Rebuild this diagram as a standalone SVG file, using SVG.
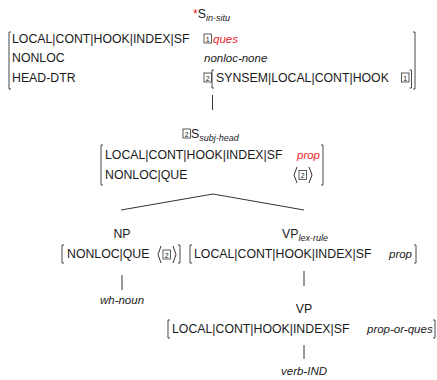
<svg xmlns="http://www.w3.org/2000/svg" width="437" height="380" viewBox="0 0 437 380">
<style>
.t{font-family:"Liberation Sans",Arial,sans-serif;font-size:12.3px;fill:#1a1a1a}
.v{font-style:italic;font-size:11.5px}
.r{fill:#e8262a}
.sub{font-style:italic;font-size:9px}
.m{text-anchor:middle}
.br{fill:none;stroke:#333;stroke-width:0.9}
.bx{fill:none;stroke:#333;stroke-width:0.8}
.d{font-family:"Liberation Sans",Arial,sans-serif;font-size:7px;text-anchor:middle;fill:#1a1a1a}
.ln{fill:none;stroke:#333;stroke-width:1}
</style>
<g id="node-s-in-situ">
<text class="t" x="193" y="18"><tspan class="r">*</tspan>S<tspan class="sub" dy="2.5">in-situ</tspan></text>
<path class="br" d="M11,32 H9 V89 H11"/>
<path class="br" d="M413,32 H415 V89 H413"/>
<text class="t" x="12" y="43">LOCAL|CONT|HOOK|INDEX|SF</text>
<text class="t" x="12" y="62">NONLOC</text>
<text class="t" x="12" y="82">HEAD-DTR</text>
<rect class="bx" x="204" y="34" width="7.5" height="9"/>
<text class="d" x="207.75" y="41.5">1</text>
<text class="t v r" x="213" y="43">ques</text>
<text class="t v" x="204" y="62">nonloc-none</text>
<rect class="bx" x="204" y="73" width="7.5" height="9"/>
<text class="d" x="207.75" y="80.5">2</text>
<path class="br" d="M214,70 H212 V88 H214"/>
<text class="t" x="216" y="82">SYNSEM|LOCAL|CONT|HOOK</text>
<rect class="bx" x="401.5" y="73" width="7.5" height="9"/>
<text class="d" x="405.25" y="80.5">1</text>
<path class="br" d="M409.5,70 H411.5 V88 H409.5"/>
</g>
<g id="node-s-subj-head">
<rect class="bx" x="183" y="129" width="7.5" height="9"/>
<text class="d" x="186.75" y="136.5">2</text>
<text class="t" x="191" y="138">S<tspan class="sub" dy="2.5">subj-head</tspan></text>
<path class="br" d="M103,145 H101 V185 H103"/>
<text class="t" x="105" y="159">LOCAL|CONT|HOOK|INDEX|SF</text>
<text class="t" x="105" y="179">NONLOC|QUE</text>
<text class="t v r" x="297" y="159">prop</text>
<polyline class="ln" points="297,167 294,175 297,183"/>
<rect class="bx" x="299" y="170.5" width="7.5" height="9"/>
<text class="d" x="302.75" y="178">2</text>
<polyline class="ln" points="309,167 312,175 309,183"/>
<path class="br" d="M321,145 H323 V185 H321"/>
</g>
<g id="node-np">
<text class="t m" x="122" y="238">NP</text>
<path class="br" d="M64,245 H62 V263 H64"/>
<text class="t" x="67" y="258">NONLOC|QUE</text>
<polyline class="ln" points="161,246 158,254.5 161,263"/>
<rect class="bx" x="163" y="250" width="7.5" height="9"/>
<text class="d" x="166.75" y="257.5">2</text>
<polyline class="ln" points="173,246 176,254.5 173,263"/>
<path class="br" d="M178,245 H180 V263 H178"/>
</g>
<g id="node-wh-noun">
<text class="t v m" x="122" y="304">wh-noun</text>
</g>
<g id="node-vp-lex-rule">
<text class="t" x="282" y="238">VP<tspan class="sub" dy="2.5">lex-rule</tspan></text>
<path class="br" d="M192,245 H190 V263 H192"/>
<text class="t" x="194" y="258">LOCAL|CONT|HOOK|INDEX|SF</text>
<text class="t v" x="389" y="258">prop</text>
<path class="br" d="M414,245 H416 V263 H414"/>
</g>
<g id="node-vp">
<text class="t m" x="304" y="313">VP</text>
<path class="br" d="M170,320 H168 V338 H170"/>
<text class="t" x="172" y="333">LOCAL|CONT|HOOK|INDEX|SF</text>
<text class="t v" x="367" y="333">prop-or-ques</text>
<path class="br" d="M433,320 H435 V338 H433"/>
</g>
<g id="node-verb-ind">
<text class="t v m" x="304" y="375">verb-IND</text>
</g>
<g id="connectors">
<path class="ln" d="M212.5,95 V110"/>
<path class="ln" d="M121,210 L213,194 L304,210"/>
<path class="ln" d="M122,275 V290"/>
<path class="ln" d="M304,271 V286"/>
<path class="ln" d="M304,345 V359"/>
</g>
</svg>
